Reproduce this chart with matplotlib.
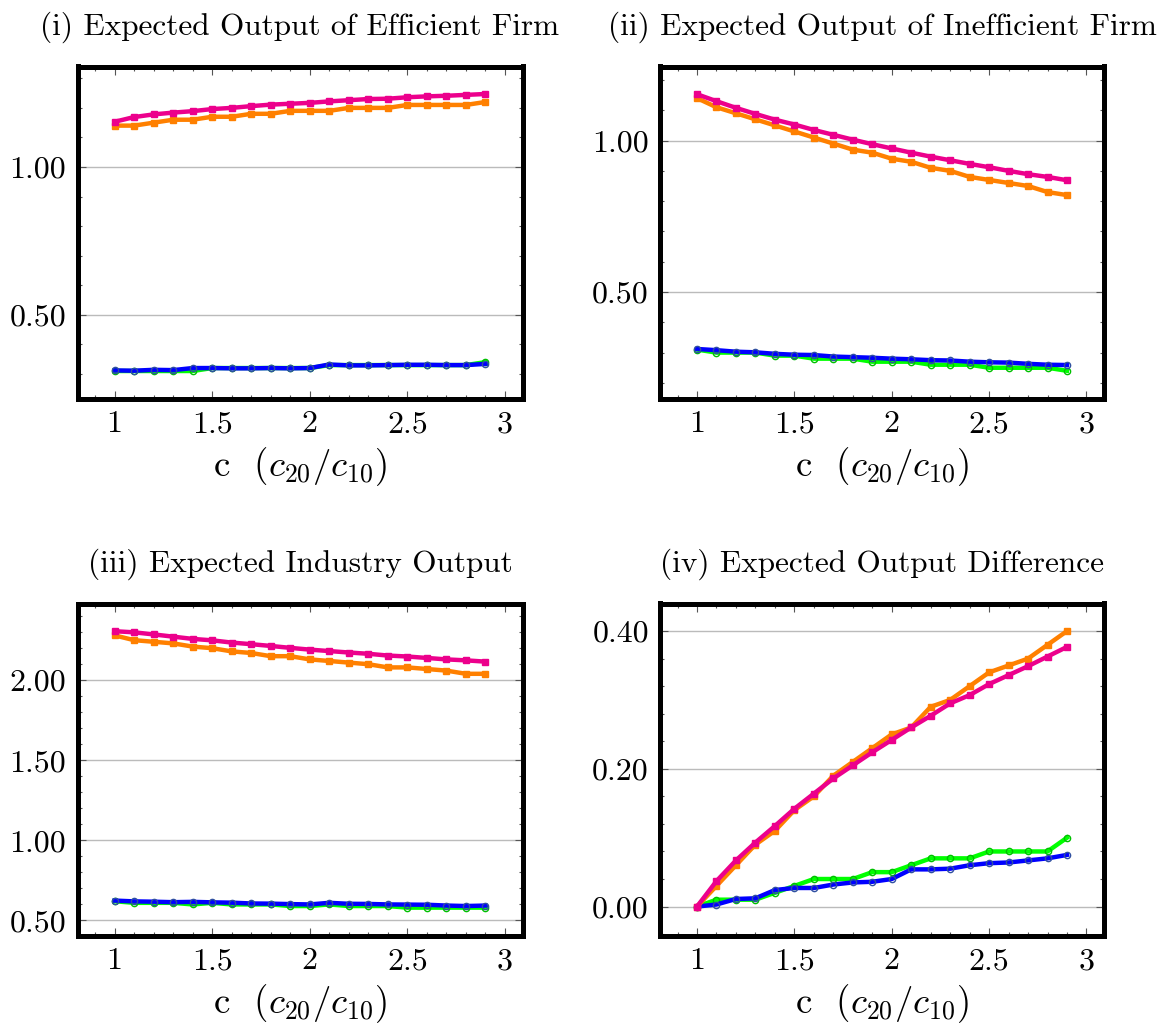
import numpy as np
import matplotlib
matplotlib.use('Agg')
import matplotlib.pyplot as plt
from matplotlib.ticker import MultipleLocator, FormatStrFormatter, FixedLocator

# 폰트 설정 (LaTeX 느낌)
plt.rcParams['font.family'] = ['cmr10', 'DejaVu Serif']
plt.rcParams['mathtext.fontset'] = 'cm'
plt.rcParams['axes.formatter.use_mathtext'] = True

# x 값 (c = c20/c10)
c = [1.0, 1.1, 1.2, 1.3, 1.4, 1.5, 1.6, 1.7, 1.8, 1.9,
     2.0, 2.1, 2.2, 2.3, 2.4, 2.5, 2.6, 2.7, 2.8, 2.9]

# (i) 효율적 기업
eff_pink = [1.153, 1.169, 1.178, 1.184, 1.189, 1.196, 1.200, 1.206, 1.211, 1.214,
            1.217, 1.222, 1.226, 1.230, 1.231, 1.236, 1.239, 1.241, 1.244, 1.247]
eff_orange = [1.14, 1.14, 1.15, 1.16, 1.16, 1.17, 1.17, 1.18, 1.18, 1.19,
              1.19, 1.19, 1.20, 1.20, 1.20, 1.21, 1.21, 1.21, 1.21, 1.22]
eff_blue = [0.312, 0.311, 0.314, 0.313, 0.320, 0.320, 0.319, 0.319, 0.320, 0.319,
            0.320, 0.332, 0.329, 0.329, 0.330, 0.331, 0.331, 0.330, 0.330, 0.334]
eff_green = [0.31, 0.31, 0.31, 0.31, 0.31, 0.32, 0.32, 0.32, 0.32, 0.32,
             0.32, 0.33, 0.33, 0.33, 0.33, 0.33, 0.33, 0.33, 0.33, 0.34]

# (ii) 비효율적 기업
ineff_pink = [1.153, 1.130, 1.108, 1.088, 1.069, 1.053, 1.035, 1.019, 1.003, 0.988,
              0.974, 0.960, 0.947, 0.935, 0.923, 0.912, 0.900, 0.889, 0.880, 0.869]
ineff_orange = [1.14, 1.11, 1.09, 1.07, 1.05, 1.03, 1.01, 0.99, 0.97, 0.96,
                0.94, 0.93, 0.91, 0.90, 0.88, 0.87, 0.86, 0.85, 0.83, 0.82]
ineff_blue = [0.312, 0.308, 0.303, 0.301, 0.296, 0.293, 0.292, 0.287, 0.285, 0.283,
              0.280, 0.278, 0.275, 0.274, 0.270, 0.268, 0.267, 0.263, 0.260, 0.259]
ineff_green = [0.31, 0.30, 0.30, 0.30, 0.29, 0.29, 0.28, 0.28, 0.28, 0.27,
               0.27, 0.27, 0.26, 0.26, 0.26, 0.25, 0.25, 0.25, 0.25, 0.24]

# (iii) 산업 전체
ind_pink = [2.306, 2.299, 2.286, 2.272, 2.258, 2.249, 2.235, 2.225, 2.214, 2.202,
            2.191, 2.182, 2.173, 2.165, 2.154, 2.148, 2.139, 2.130, 2.124, 2.116]
ind_orange = [2.28, 2.25, 2.24, 2.23, 2.21, 2.20, 2.18, 2.17, 2.15, 2.15,
              2.13, 2.12, 2.11, 2.10, 2.08, 2.08, 2.07, 2.06, 2.04, 2.04]
ind_blue = [0.624, 0.619, 0.617, 0.614, 0.616, 0.613, 0.611, 0.606, 0.605, 0.602,
            0.600, 0.610, 0.604, 0.603, 0.600, 0.599, 0.598, 0.593, 0.590, 0.593]
ind_green = [0.62, 0.61, 0.61, 0.61, 0.60, 0.61, 0.60, 0.60, 0.60, 0.59,
             0.59, 0.60, 0.59, 0.59, 0.59, 0.58, 0.58, 0.58, 0.58, 0.58]

# (iv) 차이
diff_pink = [0.0, 0.037, 0.067, 0.093, 0.117, 0.142, 0.164, 0.186, 0.205, 0.224,
             0.242, 0.260, 0.277, 0.295, 0.307, 0.323, 0.336, 0.349, 0.363, 0.377]
diff_orange = [0.00, 0.03, 0.06, 0.09, 0.11, 0.14, 0.16, 0.19, 0.21, 0.23,
               0.25, 0.26, 0.29, 0.30, 0.32, 0.34, 0.35, 0.36, 0.38, 0.40]
diff_blue = [0.0, 0.003, 0.011, 0.012, 0.024, 0.027, 0.027, 0.032, 0.035, 0.036,
             0.040, 0.054, 0.054, 0.055, 0.060, 0.063, 0.064, 0.067, 0.070, 0.075]
diff_green = [0.00, 0.01, 0.01, 0.01, 0.02, 0.03, 0.04, 0.04, 0.04, 0.05,
              0.05, 0.06, 0.07, 0.07, 0.07, 0.08, 0.08, 0.08, 0.08, 0.10]

titles = ['(i) Expected Output of Efficient Firm',
          '(ii) Expected Output of Inefficient Firm',
          '(iii) Expected Industry Output',
          '(iv) Expected Output Difference']

panels = [
    (eff_green, eff_blue, eff_orange, eff_pink),
    (ineff_green, ineff_blue, ineff_orange, ineff_pink),
    (ind_green, ind_blue, ind_orange, ind_pink),
    (diff_green, diff_blue, diff_orange, diff_pink),
]

# 축 설정: (ylim, major ticks, minor step)
ylims = [(0.217, 1.34), (0.1485, 1.2445), (0.406, 2.479), (-0.042, 0.44)]
yticks = [[0.5, 1.0], [0.5, 1.0], [0.5, 1.0, 1.5, 2.0], [0.0, 0.2, 0.4]]
yminor = [0.1, 0.1, 0.1, 0.04]

# 축 위치 (figure fraction)
W, H = 1167, 1032
boxes = [(77.5, 66.5, 522.5, 398.5), (660, 66.5, 1104, 398.5),
         (77.5, 603.5, 522.5, 935.5), (660, 603.5, 1104, 935.5)]

fig = plt.figure(figsize=(W / 100, H / 100), dpi=100)

pink = '#EC008C'
orange = '#FF8000'
green = '#00FF00'
blue = '#0000FF'

for i in range(4):
    l, t, r, b = boxes[i]
    ax = fig.add_axes([l / W, 1 - b / H, (r - l) / W, (b - t) / H])
    g, bl, o, p = panels[i]

    ax.plot(c, g, color=green, lw=3.2, marker='o', ms=4.5, mfc='none',
            mec='#00C000', mew=1.0, zorder=3)
    ax.plot(c, bl, color=blue, lw=3.2, marker='o', ms=4.5, mfc='none',
            mec='#3050A0', mew=1.0, zorder=4)
    ax.plot(c, o, color=orange, lw=3.2, marker='s', ms=4.8, mec=orange, zorder=5)
    ax.plot(c, p, color=pink, lw=3.2, marker='s', ms=4.8, mec=pink, zorder=6)

    ax.set_xlim(0.81, 3.09)
    ax.set_ylim(*ylims[i])
    ax.xaxis.set_major_locator(FixedLocator([1, 1.5, 2, 2.5, 3]))
    ax.xaxis.set_minor_locator(MultipleLocator(0.1))
    ax.set_xticklabels(['1', '1.5', '2', '2.5', '3'])
    ax.yaxis.set_major_locator(FixedLocator(yticks[i]))
    ax.yaxis.set_major_formatter(FormatStrFormatter('%.2f'))
    ax.yaxis.set_minor_locator(MultipleLocator(yminor[i]))

    ax.grid(True, axis='y', which='major', color='#BBBBBB', lw=1.0, zorder=0)
    ax.tick_params(which='both', direction='in', top=True, right=True,
                   color='#555555', width=0.8, labelsize=23)
    ax.tick_params(which='major', length=5.5)
    ax.tick_params(axis='x', which='major', pad=9)
    ax.tick_params(axis='y', which='major', pad=8)
    ax.tick_params(which='minor', length=3)
    for s in ax.spines.values():
        s.set_linewidth(3.6)
        s.set_color('black')
        s.set_zorder(10)

    ax.set_title(titles[i], fontsize=22.5, pad=23)
    ax.set_xlabel(r'c  $(c_{20}/c_{10})$', fontsize=26.5, labelpad=5)

plt.savefig('out.png', dpi=100)
